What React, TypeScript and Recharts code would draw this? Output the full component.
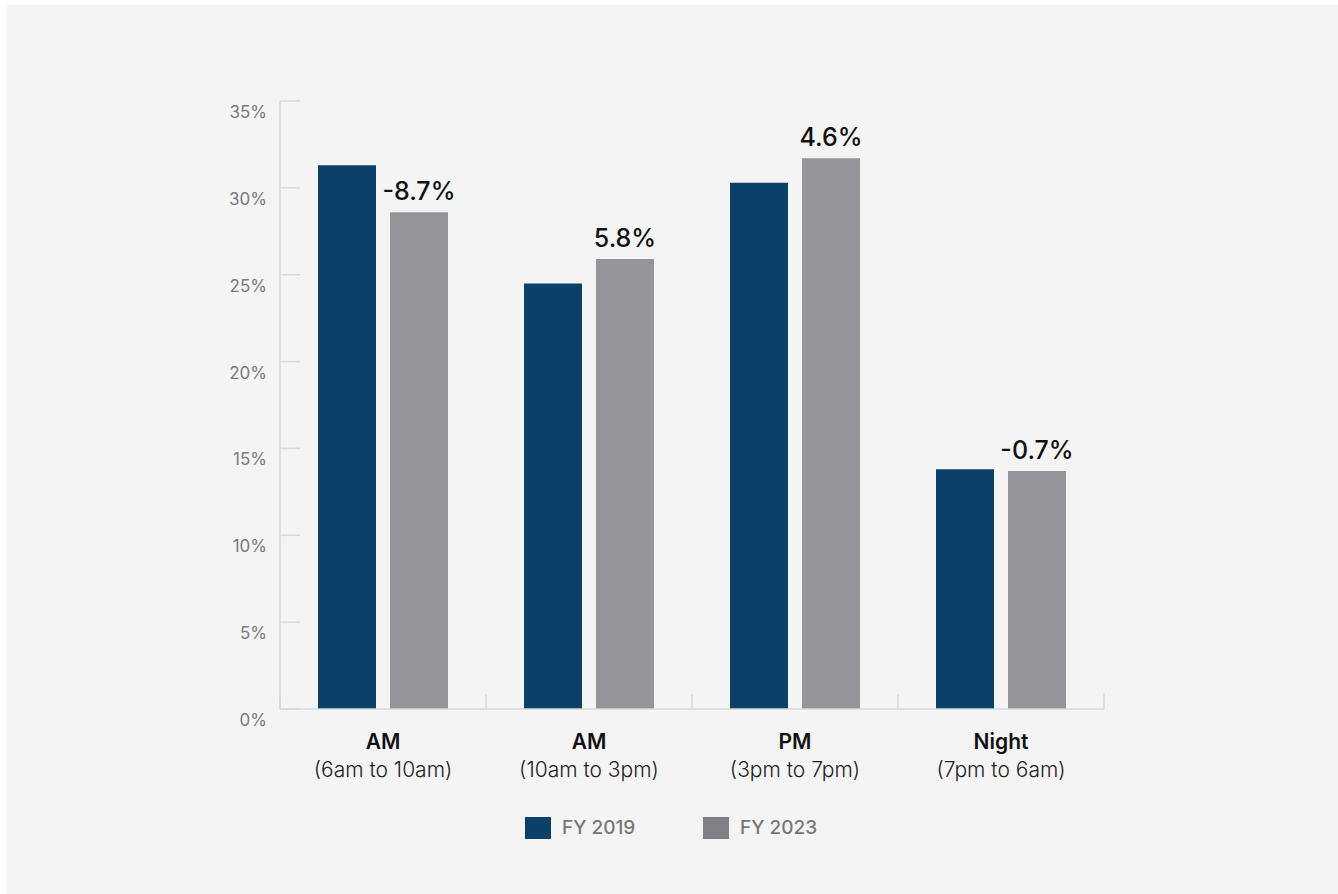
import { BarChart, Bar, XAxis, YAxis, LabelList } from "recharts";

const periods = ["AM", "AM", "PM", "Night"];
const hours = ["(6am to 10am)", "(10am to 3pm)", "(3pm to 7pm)", "(7pm to 6am)"];
const fy2019 = [31.3, 24.5, 30.3, 13.8];
const fy2023 = [28.6, 25.9, 31.7, 13.7];
const changes = ["-8.7%", "5.8%", "4.6%", "-0.7%"];
const yTicks = [0, 5, 10, 15, 20, 25, 30, 35];

const data = periods.map((p, i) => ({
  key: `${p} ${hours[i]}`,
  fy2019: fy2019[i],
  fy2023: fy2023[i],
  change: changes[i],
}));

const W = 1331;
const H = 889;
const margin = { top: 96, right: 234, left: 213, bottom: 105 };
const Y_W = 60;
const band = (W - margin.left - Y_W - margin.right) / periods.length;

const FONT = "Inter, 'Noto Sans', sans-serif";
const NAVY = "#0b4168";
const GREY = "#949599";
const AXIS = "#d8d8d8";

function YTick(props: any) {
  const { x, y, payload } = props;
  return (
    <g>
      <line x1={x + 13} x2={x + 33} y1={y} y2={y} stroke={AXIS} strokeWidth={1.5} />
      <text x={x} y={y} dy={17} textAnchor="end" fill="#7a7a7a" fontSize={17} fontFamily={FONT}>
        {payload.value}%
      </text>
    </g>
  );
}

function XTick(props: any) {
  const { x, y, index } = props;
  const left = x - band / 2;
  const right = x + band / 2;
  return (
    <g>
      <line x1={left} x2={left} y1={y} y2={y - 15} stroke={AXIS} strokeWidth={1.5} />
      {index === periods.length - 1 && (
        <line x1={right} x2={right} y1={y} y2={y - 15} stroke={AXIS} strokeWidth={1.5} />
      )}
      <text x={x} y={y + 40} textAnchor="middle" fill="#111" fontSize={21} fontWeight={600} fontFamily={FONT}>
        {periods[index]}
      </text>
      <text x={x} y={y + 68} textAnchor="middle" fill="#222" fontSize={21} fontWeight={300} fontFamily={FONT}>
        {hours[index]}
      </text>
    </g>
  );
}

function LegendItem({ color, label, left }: { color: string; label: string; left: number }) {
  return (
    <div style={{ position: "absolute", left, top: 811, display: "flex", alignItems: "center" }}>
      <div style={{ width: 26, height: 22, background: color, marginRight: 11 }} />
      <span style={{ fontSize: 19, fontWeight: 500, color: "#777", fontFamily: FONT }}>{label}</span>
    </div>
  );
}

export default function App() {
  return (
    <div style={{ position: "absolute", left: 7, top: 5, width: W, height: H, background: "#f4f4f4" }}>
      <BarChart width={W} height={H} data={data} margin={margin} barSize={58} barGap={14}>
        <YAxis
          width={Y_W}
          domain={[0, 35]}
          ticks={yTicks}
          interval={0}
          axisLine={{ stroke: AXIS, strokeWidth: 1.5 }}
          tickLine={false}
          tickSize={0}
          tickMargin={13}
          tick={<YTick />}
        />
        <XAxis
          dataKey="key"
          height={80}
          interval={0}
          axisLine={{ stroke: AXIS, strokeWidth: 1.5 }}
          tickLine={false}
          tickSize={0}
          tickMargin={0}
          tick={<XTick />}
        />
        <Bar dataKey="fy2019" fill={NAVY} isAnimationActive={false} />
        <Bar dataKey="fy2023" fill={GREY} isAnimationActive={false}>
          <LabelList
            dataKey="change"
            position="top"
            offset={12}
            fill="#111"
            fontSize={25}
            fontWeight={500}
            fontFamily={FONT}
          />
        </Bar>
      </BarChart>
      <LegendItem color={NAVY} label="FY 2019" left={518} />
      <LegendItem color="#808184" label="FY 2023" left={696} />
    </div>
  );
}
